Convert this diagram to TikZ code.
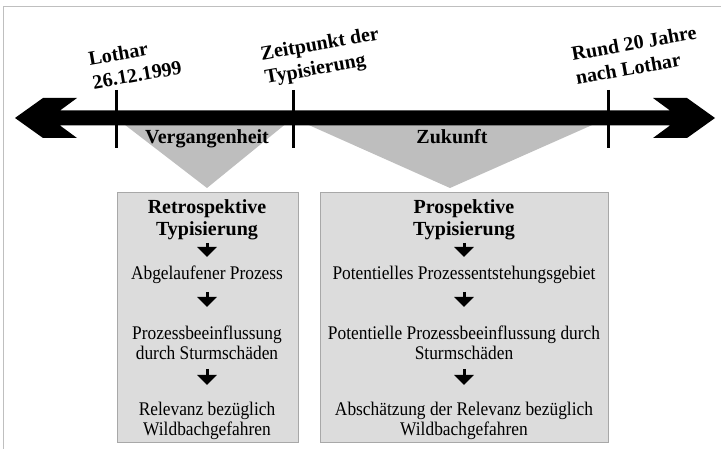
\documentclass[tikz,border=0pt]{standalone}
\usepackage{fontspec}
\setmainfont{Liberation Serif}
\newfontfamily\itemfont[FakeStretch=0.9]{Liberation Serif}
\usetikzlibrary{arrows.meta}
\definecolor{cone}{HTML}{BEBEBE}
\definecolor{panelfill}{HTML}{DCDCDC}
\definecolor{panelline}{HTML}{A8A8A8}

\begin{document}
\begin{tikzpicture}[x=1pt, y=-1pt,
    tick/.style={line width=3pt},
    date/.style={font=\fontsize{20}{24}\selectfont\bfseries, align=left, rotate=10, inner sep=0pt},
    era/.style={font=\fontsize{20}{22}\selectfont\bfseries, inner sep=0pt},
    panel/.style={draw=panelline, fill=panelfill, line width=1pt, inner sep=0pt},
    head/.style={font=\fontsize{20}{22}\selectfont\bfseries, align=center, inner sep=0pt},
    item/.style={font=\itemfont\fontsize{19.3}{20}\selectfont, align=center, inner sep=0pt},
    flow/.style={line width=3pt, -{Triangle[length=10pt, width=19pt]}}]

        \useasboundingbox (0,0) rectangle (721,449);
        \draw[gray!50] (3,449) -- (3,6) -- (721,6);

        % time axis
        \coordinate (past) at (15,118);
        \coordinate (future) at (715,118);
        \coordinate (lothar) at (116,118);
        \coordinate (now) at (293,118);
        \coordinate (later) at (608,118);

        \fill[cone] (lothar) -- (now) -- (207,188) -- cycle;
        \fill[cone] (now) -- (later) -- (450,188) -- cycle;

        \fill (past) -- (43,98) -- (77,98) -- (60,110.5) -- (670,110.5) -- (653,98) -- (687,98)
            -- (future) -- (687,138) -- (653,138) -- (670,125.5) -- (60,125.5) -- (77,138) -- (43,138) -- cycle;
        \foreach \t in {lothar, now, later}
            \draw[tick] (\t) ++(0,-28) -- ++(0,58);

        \node[date] (dlothar) at (135,63) {Lothar\\26.12.1999};
        \node[date] (dnow) at (322,57) {Zeitpunkt der\\Typisierung};
        \node[date] (dlater) at (636,55) {Rund 20 Jahre\\nach Lothar};

        \node[era] (vg) at (207,139) {Vergangenheit};
        \node[era] (zk) at (452,137) {Zukunft};

        % boxes
        \node[panel, minimum width=181pt, minimum height=249pt] (retro) at (207.5,317.5) {};
        \node[panel, minimum width=288pt, minimum height=249pt] (pro) at (464,317.5) {};

        \node[head] (r0) at (207,220) {Retrospektive\\Typisierung};
        \node[item] (r1) at (207,275) {Abgelaufener Prozess};
        \node[item] (r2) at (207,343) {Prozessbeeinflussung\\durch Sturmschäden};
        \node[item] (r3) at (207,421) {Relevanz bezüglich\\Wildbachgefahren};

        \node[head] (p0) at (464,220) {Prospektive\\Typisierung};
        \node[item] (p1) at (464,275) {Potentielles Prozessentstehungsgebiet};
        \node[item] (p2) at (464,343) {Potentielle Prozessbeeinflussung durch\\Sturmschäden};
        \node[item] (p3) at (464,421) {Abschätzung der Relevanz bezüglich\\Wildbachgefahren};

        \draw[flow, shorten <=23pt, shorten >=18pt] (r0.center) -- (r1.center);
        \draw[flow, shorten <=17pt, shorten >=36pt] (r1.center) -- (r2.center);
        \draw[flow, shorten <=26pt, shorten >=36pt] (r2.center) -- (r3.center);
        \draw[flow, shorten <=23pt, shorten >=18pt] (p0.center) -- (p1.center);
        \draw[flow, shorten <=17pt, shorten >=36pt] (p1.center) -- (p2.center);
        \draw[flow, shorten <=26pt, shorten >=36pt] (p2.center) -- (p3.center);
    \end{tikzpicture}
\end{document}
